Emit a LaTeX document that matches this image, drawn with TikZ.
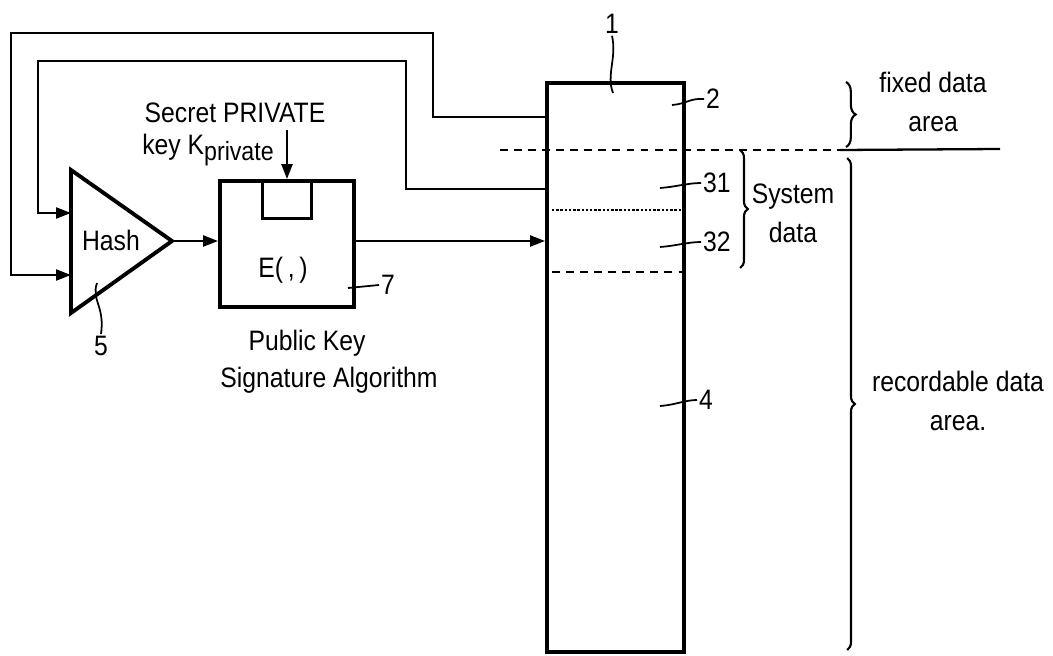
\documentclass[tikz,border=0pt]{standalone}
\usepackage{fontspec}
\setmainfont{Liberation Sans}[FakeStretch=0.88]
\usetikzlibrary{positioning,arrows.meta,decorations.pathreplacing}

\begin{document}
\begin{tikzpicture}[
    x=0.02cm, y=-0.02cm,
    txt/.style={font=\fontsize{16}{22}\selectfont, inner sep=1pt, align=center},
    box/.style={draw, line width=2.2pt, inner sep=0pt},
    wire/.style={line width=1.3pt},
    feed/.style={wire, -{Triangle[length=3mm, width=2.2mm]}},
    lead/.style={line width=1pt},
    part/.style={line width=1.3pt, dash pattern=on 4.5pt off 3.5pt},
    fine/.style={line width=1.5pt, dash pattern=on 1.4pt off 1pt},
    curly/.style={line width=1.2pt, decorate, decoration={brace, amplitude=#1}}
]
    \useasboundingbox (0,0) rectangle (1053,655);

    % Record carrier
    \node[box, minimum width=2.74cm, minimum height=11.38cm] (mem) at (615.5,367.5) {};
    \coordinate (tap-fix) at (547,117);
    \coordinate (tap-sys) at (547,189);

    % Hash
    \coordinate (hash-tip) at (172,241);
    \coordinate (hash-a) at (71,213);
    \coordinate (hash-b) at (71,275);
    \draw[line width=2.2pt, line join=miter] (71,170) -- (hash-tip) -- (71,313) -- cycle;
    \node[txt] (hash) at (111,240) {Hash};

    % Signature block
    \node[box, minimum width=2.68cm, minimum height=2.52cm] (enc) at (287,244) {};
    \node[box, line width=1.6pt, minimum width=0.98cm, minimum height=0.76cm, below=0pt of enc.north] (slot) {};
    \node[txt] (encfn) at (283,270) {E(\,,\,)};
    \node[txt] (secret) at (235,113) {Secret PRIVATE};
    \node[txt] (keyname) at (208,150) {key K\raisebox{-0.45ex}{\fontsize{15}{17}\selectfont private}};
    \coordinate (keyin) at (287,130);
    \node[txt] (pubkey) at (307,343) {Public Key};
    \node[txt] (sigalg) at (329,380) {Signature Algorithm};

    % Feedback and data path
    \draw[feed] (tap-fix) -| (433,33) -| (11,275) -- (hash-b);
    \draw[feed] (tap-sys) -| (406,61) -| (38,213) -- (hash-a);
    \draw[feed] (hash-tip) -- (enc.west |- hash-tip);
    \draw[feed] (enc.east |- hash-tip) -- (mem.west |- hash-tip);
    \draw[feed] (keyin) -- (slot.north);

    % Areas
    \draw[part] (500,150) -- (840,150);
    \draw[wire] (840,150) -- (1000,149);
    \draw[fine] (552,210) -- (682,210);
    \draw[part] (552,272) -- (682,272);

    % Reference numerals
    \node[txt] (n1) at (612,24) {1};
    \draw[lead] (613,93) .. controls (606,75) and (617,58) .. (n1.south);
    \node[txt, anchor=west] (n2) at (704,99) {2};
    \draw[lead] (672,105) .. controls (686,104) and (690,98) .. (n2.west);
    \node[txt, anchor=west] (n31) at (701,183) {31};
    \draw[lead] (660,188) .. controls (675,187) and (688,183) .. (n31.west);
    \node[txt, anchor=west] (n32) at (701,242) {32};
    \draw[lead] (660,247) .. controls (675,246) and (688,242) .. (n32.west);
    \node[txt, anchor=west] (n4) at (697,400) {4};
    \draw[lead] (660,406) .. controls (675,405) and (685,400) .. (n4.west);
    \node[txt, anchor=west] (n7) at (379,285) {7};
    \draw[lead] (348,288) -- (n7.west);
    \node[txt] (n5) at (101,346) {5};
    \draw[lead] (97,283) .. controls (91,300) and (105,306) .. (n5.north);

    % Braces
    \draw[curly=5.5pt] (846,82) -- (846,147);
    \node[txt] (fixed) at (933,102) {fixed data\\area};
    \draw[curly=4.5pt] (740,150) -- (740,268);
    \node[txt] (sysdata) at (793,213) {System\\data};
    \draw[curly=4.5pt] (847,158) -- (847,650);
    \node[txt] (record) at (958,401) {recordable data\\area.};
\end{tikzpicture}
\end{document}
